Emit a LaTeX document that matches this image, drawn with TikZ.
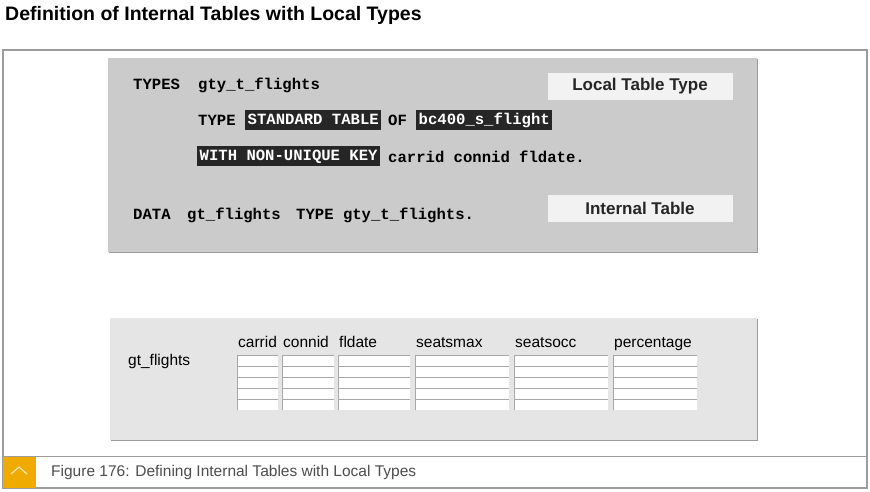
\documentclass[tikz,border=0pt]{standalone}
\usepackage{fontspec}
\setmainfont{Liberation Sans}
\newfontfamily\codefont{Liberation Mono}
\usetikzlibrary{positioning}
\definecolor{rule}{HTML}{9C9C9C}
\definecolor{codebg}{HTML}{CBCBCB}
\definecolor{tablebg}{HTML}{E5E5E5}
\definecolor{labelbg}{HTML}{F2F2F2}
\definecolor{keyword}{HTML}{262626}
\definecolor{cellline}{HTML}{A8A8A8}
\definecolor{gold}{HTML}{F0AB00}
\definecolor{capgray}{HTML}{4D4D4D}

\begin{document}
\begin{tikzpicture}[x=1pt,y=-1pt,
    code/.style={anchor=base west,inner sep=0pt,font=\codefont\bfseries\fontsize{15.6}{18}\selectfont},
    kw/.style={code,fill=keyword,text=white,inner xsep=2.5pt,inner ysep=3pt,text height=11pt,text depth=3pt},
    tag/.style={fill=labelbg,minimum width=185pt,minimum height=27pt,font=\bfseries\fontsize{17}{19}\selectfont,text=black!85},
    colhead/.style={anchor=base west,inner sep=0pt,font=\fontsize{15.5}{18}\selectfont}]
  \fill[white] (0,0) rectangle (870,491);
  \useasboundingbox (0,0) rectangle (870,491);

  % heading and frame
  \node[anchor=base west,inner sep=0pt,font=\bfseries\fontsize{19.5}{22}\selectfont] (title) at (5,20) {Definition of Internal Tables with Local Types};
  \draw[rule,line width=1.3pt] (3,50) rectangle (867,488);
  \draw[rule,line width=1pt] (3,456) -- (867,456);

  % code box
  \fill[codebg] (108,58) rectangle (757,252);
  \draw[rule] (757,59) -- (757,252) -- (109,252);
  \node[code] (types) at (133,89) {TYPES};
  \node[code] (ttype) at (198,89) {gty\_t\_flights};
  \node[code] (typekw) at (198,125) {TYPE};
  \node[kw] (std) at (245,124) {STANDARD TABLE};
  \node[code] (of) at (388,125) {OF};
  \node[kw] (struct) at (416,124) {bc400\_s\_flight};
  \node[kw] (key) at (197,160) {WITH NON-UNIQUE KEY};
  \node[code] (fields) at (388,162) {carrid connid fldate.};
  \node[code] (data) at (133,219) {DATA};
  \node[code] (obj) at (187,219) {gt\_flights};
  \node[code] (objtype) at (296,219) {TYPE gty\_t\_flights.};
  \node[tag] (localtype) at (640,86) {Local Table Type};
  \node[tag] (itab) at (640,208.5) {Internal Table};

  % table box
  \fill[tablebg] (110,318) rectangle (757,440);
  \draw[rule] (757,319) -- (757,440) -- (111,440);
  \node[colhead] (tabname) at (128,365) {gt\_flights};
  \foreach \l/\r/\h in {237/278/carrid,282/334/connid,338/410/fldate,415/509/seatsmax,514/608/seatsocc,613/697/percentage} {
    \node[colhead] (head-\h) at (\l+1,347) {\h};
    \foreach \i in {0,...,4} {
      \fill[white] (\l,355+11.2*\i) rectangle (\r,365.5+11.2*\i);
      \draw[cellline,line width=0.8pt] (\l,365.5+11.2*\i) -- (\l,355+11.2*\i) -- (\r,355+11.2*\i);
    }
  }

  % caption bar
  \fill[gold] (3,457) rectangle (36,487.5);
  \draw[white!75!gold,line width=1.1pt] (11,474) -- (19,467) -- (27,474);
  \node[anchor=base west,inner sep=0pt,text=capgray,font=\fontsize{15.5}{18}\selectfont] (caption) at (51,476.5) {Figure 176: Defining Internal Tables with Local Types};
\end{tikzpicture}
\end{document}
